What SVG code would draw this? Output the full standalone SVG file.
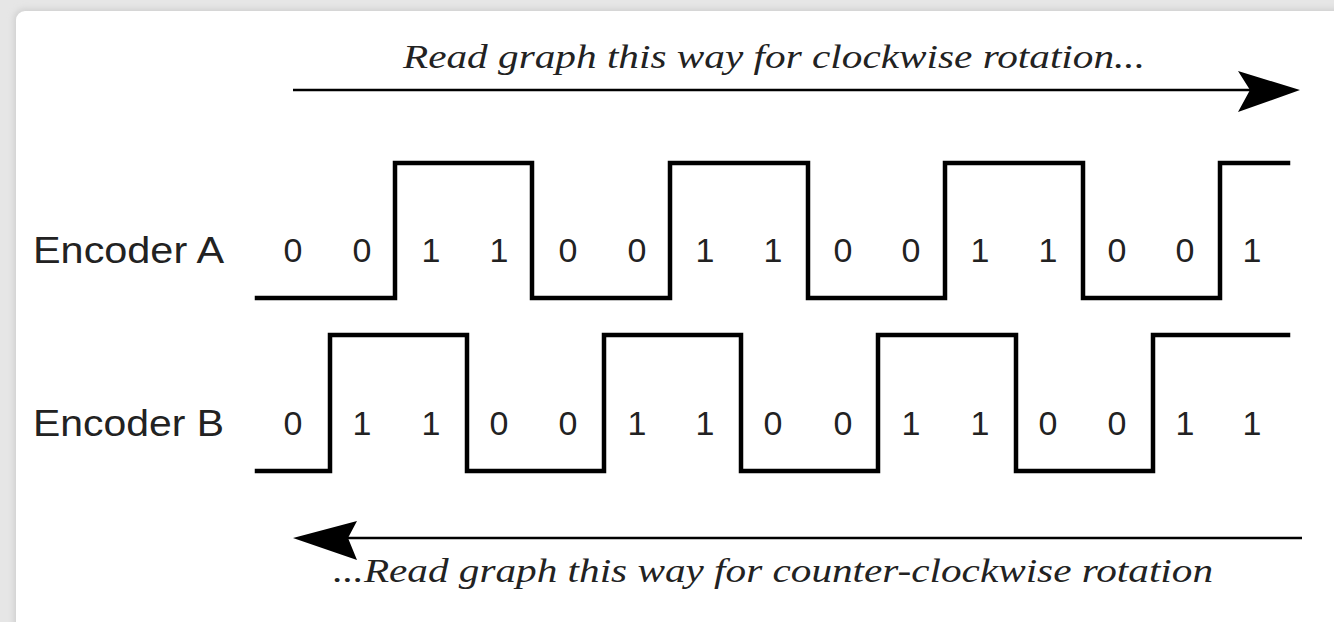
<svg xmlns="http://www.w3.org/2000/svg" width="1334" height="622" viewBox="0 0 1334 622">
  <defs>
    <filter id="sh" x="-5%" y="-5%" width="110%" height="110%">
      <feGaussianBlur stdDeviation="3"/>
    </filter>
    <style>
      .wave { fill: none; stroke: #000; stroke-width: 4.5; stroke-linejoin: miter; stroke-linecap: square; }
      .dig { font-family: "Liberation Sans", Arial, sans-serif; font-size: 34px; fill: #222; text-anchor: middle; }
      .lbl { font-family: "Liberation Sans", Arial, sans-serif; font-size: 37px; fill: #222; }
      .cap { font-family: "Liberation Serif", "Times New Roman", serif; font-style: italic; font-size: 33px; fill: #222; }
      .axis { stroke: #000; stroke-width: 2.5; fill: none; }
      .head { fill: #000; }
    </style>
  </defs>

  <rect x="0" y="0" width="1334" height="622" fill="#e6e6e6"/>
  <rect x="14" y="9" width="1340" height="630" rx="10" fill="#cfcfcf" filter="url(#sh)"/>
  <rect x="16" y="11" width="1340" height="630" rx="9" fill="#ffffff"/>

  <g id="connectors">
    <line class="axis" x1="293" y1="90" x2="1250" y2="90"/>
    <polygon class="head" points="1300,90 1238,71 1250,90 1238,112"/>
    <line class="axis" x1="348" y1="538" x2="1302" y2="538"/>
    <polygon class="head" points="293,538 357,521 348,538 357,560"/>
  </g>

  <g id="caption-cw">
    <text class="cap" x="403" y="68" textLength="742" lengthAdjust="spacingAndGlyphs">Read graph this way for clockwise rotation...</text>
  </g>
  <g id="caption-ccw">
    <text class="cap" x="333" y="582" textLength="880" lengthAdjust="spacingAndGlyphs">...Read graph this way for counter-clockwise rotation</text>
  </g>

  <g id="encoder-a">
    <text class="lbl" x="33" y="263" textLength="191" lengthAdjust="spacingAndGlyphs">Encoder A</text>
    <path class="wave" d="M257,298 H395 V163 H532 V298 H670 V163 H808 V298 H945 V163 H1083 V298 H1220 V163 H1288"/>
    <g>
      <text class="dig" x="293" y="262">0</text>
      <text class="dig" x="362" y="262">0</text>
      <text class="dig" x="431" y="262">1</text>
      <text class="dig" x="499" y="262">1</text>
      <text class="dig" x="568" y="262">0</text>
      <text class="dig" x="637" y="262">0</text>
      <text class="dig" x="705" y="262">1</text>
      <text class="dig" x="773" y="262">1</text>
      <text class="dig" x="843" y="262">0</text>
      <text class="dig" x="911" y="262">0</text>
      <text class="dig" x="980" y="262">1</text>
      <text class="dig" x="1048" y="262">1</text>
      <text class="dig" x="1117" y="262">0</text>
      <text class="dig" x="1185" y="262">0</text>
      <text class="dig" x="1252" y="262">1</text>
    </g>
  </g>

  <g id="encoder-b">
    <text class="lbl" x="33" y="436" textLength="191" lengthAdjust="spacingAndGlyphs">Encoder B</text>
    <path class="wave" d="M257,471 H330 V335 H467 V471 H604 V335 H741 V471 H878 V335 H1016 V471 H1153 V335 H1288"/>
    <g>
      <text class="dig" x="293" y="435">0</text>
      <text class="dig" x="362" y="435">1</text>
      <text class="dig" x="431" y="435">1</text>
      <text class="dig" x="499" y="435">0</text>
      <text class="dig" x="568" y="435">0</text>
      <text class="dig" x="637" y="435">1</text>
      <text class="dig" x="705" y="435">1</text>
      <text class="dig" x="773" y="435">0</text>
      <text class="dig" x="843" y="435">0</text>
      <text class="dig" x="911" y="435">1</text>
      <text class="dig" x="980" y="435">1</text>
      <text class="dig" x="1048" y="435">0</text>
      <text class="dig" x="1117" y="435">0</text>
      <text class="dig" x="1185" y="435">1</text>
      <text class="dig" x="1252" y="435">1</text>
    </g>
  </g>
</svg>
